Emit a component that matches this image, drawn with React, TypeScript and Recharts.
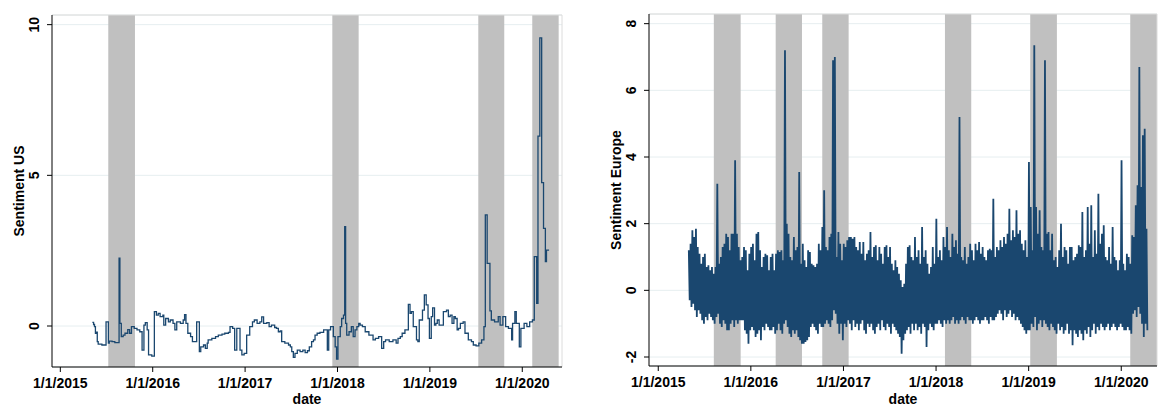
import React from "react";
import {
  LineChart,
  Line,
  XAxis,
  YAxis,
  CartesianGrid,
  ReferenceArea,
  ReferenceLine,
} from "recharts";

const NAVY = "#1a476f";
const BAND = "#c0c0c0";
const GRID = "#e6eef0";
const FONT = "'Liberation Sans', Arial, Helvetica, sans-serif";

const YEAR_TICKS = [2015, 2016, 2017, 2018, 2019, 2020];

// US sentiment: weekly step series (decimal year, value at change point)
const usDates = [
  2015.347, 2015.36, 2015.37, 2015.38, 2015.39, 2015.4, 2015.41, 2015.45, 2015.495, 2015.52,
  2015.53, 2015.56, 2015.59, 2015.636, 2015.645, 2015.66, 2015.68, 2015.7, 2015.73, 2015.75,
  2015.77, 2015.8, 2015.83, 2015.86, 2015.885, 2015.905, 2015.92, 2015.94, 2015.955, 2015.99,
  2016.018, 2016.04, 2016.06, 2016.08, 2016.11, 2016.12, 2016.14, 2016.17, 2016.19, 2016.22,
  2016.24, 2016.26, 2016.3, 2016.33, 2016.345, 2016.36, 2016.38, 2016.41, 2016.43, 2016.476,
  2016.505, 2016.52, 2016.55, 2016.57, 2016.59, 2016.6, 2016.64, 2016.68, 2016.71, 2016.75,
  2016.78, 2016.82, 2016.837, 2016.865, 2016.887, 2016.91, 2016.945, 2016.965, 2016.99, 2017.017,
  2017.05, 2017.08, 2017.1, 2017.13, 2017.16, 2017.18, 2017.2, 2017.235, 2017.26, 2017.285,
  2017.32, 2017.34, 2017.36, 2017.38, 2017.396, 2017.43, 2017.47, 2017.49, 2017.505, 2017.522,
  2017.54, 2017.565, 2017.595, 2017.625, 2017.65, 2017.675, 2017.695, 2017.72, 2017.74, 2017.757,
  2017.78, 2017.81, 2017.85, 2017.89, 2017.905, 2017.925, 2017.955, 2017.975, 2017.99, 2018.005,
  2018.03, 2018.045, 2018.065, 2018.078, 2018.088, 2018.1, 2018.125, 2018.15, 2018.17, 2018.19,
  2018.21, 2018.23, 2018.245, 2018.27, 2018.3, 2018.34, 2018.385, 2018.41, 2018.445, 2018.478,
  2018.5, 2018.52, 2018.56, 2018.6, 2018.635, 2018.655, 2018.68, 2018.7, 2018.73, 2018.767,
  2018.785, 2018.8, 2018.82, 2018.855, 2018.87, 2018.885, 2018.92, 2018.94, 2018.96, 2018.98,
  2018.995, 2019.015, 2019.03, 2019.05, 2019.065, 2019.08, 2019.1, 2019.146, 2019.18, 2019.2,
  2019.22, 2019.24, 2019.26, 2019.275, 2019.295, 2019.31, 2019.33, 2019.36, 2019.38, 2019.416,
  2019.45, 2019.47, 2019.5, 2019.53, 2019.56, 2019.585, 2019.6, 2019.62, 2019.65, 2019.665,
  2019.7, 2019.74, 2019.76, 2019.79, 2019.82, 2019.85, 2019.885, 2019.895, 2019.92, 2019.935,
  2019.968, 2019.985, 2020.02, 2020.05, 2020.08, 2020.11, 2020.13, 2020.156, 2020.17, 2020.19,
  2020.21, 2020.23, 2020.25, 2020.262, 2020.29,
];
const usValues = [
  0.12, 0.05, -0.02, -0.24, -0.2, -0.52, -0.6, -0.63, 0.14, -0.57,
  -0.5, -0.52, -0.55, 2.25, 0.09, -0.35, -0.3, -0.24, -0.12, -0.24,
  -0.02, -0.08, -0.13, -0.19, -0.8, 0.03, 0.11, -0.13, -0.96, -1.0,
  0.48, 0.36, 0.42, 0.31, 0.36, 0.03, 0.25, 0.14, 0.2, 0.09,
  -0.13, 0.14, 0.09, 0.2, 0.38, 0.09, -0.24, -0.35, -0.52, 0.14,
  -0.85, -0.69, -0.63, -0.74, -0.57, -0.46, -0.41, -0.35, -0.3, -0.27,
  -0.24, -0.21, -0.02, -0.08, -0.8, -0.08, -0.8, -0.96, -0.91, -0.3,
  -0.02, 0.14, 0.2, 0.09, 0.14, 0.3, 0.09, 0.11, -0.02, 0.03,
  -0.05, -0.08, -0.19, -0.16, -0.52, -0.57, -0.63, -0.69, -0.85, -1.04,
  -0.91, -0.8, -0.85, -0.8, -0.88, -0.82, -0.69, -0.52, -0.46, -0.3,
  -0.24, -0.21, -0.13, -0.8, -0.13, -0.02, -0.35, -0.69, -1.1, -0.35,
  -0.02, 0.25, 0.36, 3.3, 0.09, -0.3, -0.19, -0.02, -0.35, -0.13,
  -0.02, 0.09, 0.03, -0.02, -0.19, -0.3, -0.46, -0.41, -0.35, -0.74,
  -0.52, -0.46, -0.52, -0.46, -0.57, -0.41, -0.35, -0.24, -0.13, 0.72,
  0.42, 0.48, -0.02, -0.46, -0.52, 0.2, 0.53, 1.03, 0.7, 0.25,
  -0.41, 0.31, 0.6, 0.03, 0.09, 0.2, 0.03, 0.48, 0.53, 0.31,
  0.36, 0.09, 0.31, 0.25, -0.13, -0.08, 0.09, 0.14, -0.24, -0.46,
  -0.52, -0.63, -0.66, -0.57, -0.46, -0.02, 3.69, 2.08, 0.5, 0.2,
  0.14, 0.31, 0.03, 0.31, -0.02, -0.08, -0.46, 0.09, 0.48, 0.09,
  -0.69, -0.08, 0.09, -0.02, 0.14, 0.2, 2.3, 0.75, 6.3, 9.56,
  4.76, 3.24, 2.14, 2.52, 2.52,
];

// Europe sentiment: weekly high / low
const euStart = 2015.33;
const euHigh = [
  1.2, 1.4, 1.8, 1.6, 1.85, 1.3,
  1.1, 0.8, 1.0, 1.1, 0.7, 0.75, 0.6,
  0.7, 0.5, 0.7, 3.2, 0.8, 1.0, 1.3, 1.4, 1.7, 1.6, 1.2, 1.7, 1.7,
  3.9, 1.7, 1.3, 0.9, 1.0, 1.3, 1.2, 0.6, 1.1,
  1.3, 1.4, 0.9, 1.7, 1.75, 1.2, 0.7, 1.0, 1.1, 1.05, 0.6,
  1.0, 1.1, 0.6, 1.1, 1.2, 1.15, 1.2, 0.9,
  7.2, 2.0, 1.7, 1.0, 0.9, 1.6, 1.2, 1.3,
  3.55, 0.8, 1.4, 0.9, 0.7, 1.2, 1.15, 0.8, 0.75, 0.7, 0.8, 1.4, 1.2,
  1.9, 3.0, 1.3, 1.2, 1.6, 1.7, 6.9, 7.0, 1.0, 1.75, 1.4, 0.9,
  1.4, 1.3, 1.5, 1.6, 1.6, 1.55, 1.6, 1.3, 1.2, 1.45, 1.1, 1.45, 0.9, 1.1,
  1.2, 1.75, 1.0, 1.3, 1.35, 0.9, 1.3, 1.1, 0.8, 1.3, 1.35, 1.0, 1.3, 0.8, 0.6, 0.9, 0.7,
  0.5, 0.3, 0.1, 0.2, 0.8, 1.3, 1.35, 1.0, 0.9,
  1.6, 1.0, 1.2, 0.8, 1.9, 1.0, 1.2, 0.8, 0.5, 0.7, 1.3, 0.8,
  2.15, 1.0, 1.2, 0.9, 1.6, 1.3, 1.9, 1.2, 1.0, 1.7, 1.3, 1.5, 1.1,
  5.2, 1.0, 0.9, 1.3, 0.8, 1.0, 1.4, 1.2, 0.9, 1.4, 1.2, 1.45, 1.1, 1.3, 1.0, 0.9, 1.2, 1.25, 1.2,
  2.75, 1.0, 1.3, 1.2, 1.5, 1.3, 1.6, 1.4, 1.7, 2.45, 1.5, 1.8, 1.6, 2.4, 1.7, 1.8, 1.4, 1.2, 1.5, 1.0,
  3.85, 2.5, 1.2, 7.35, 2.5, 1.7, 2.4, 1.3, 1.2, 6.9,
  1.7, 1.75, 1.2, 1.7, 0.9, 1.0, 0.7, 1.2, 2.0, 1.0, 1.3, 1.2, 0.8, 1.3,
  1.3, 0.9, 1.0, 1.1, 1.35, 1.3, 2.35, 1.0, 1.2, 2.5, 1.4, 2.55, 1.0, 1.8, 1.1, 2.9, 1.4, 1.7,
  1.95, 1.0, 0.9, 1.3, 0.8, 1.9, 1.0, 0.9, 0.6, 0.9, 3.9, 0.8, 0.6, 1.1, 1.0, 0.8,
  1.65, 1.6, 2.55, 3.15, 6.7, 3.1, 4.65, 4.85, 1.85,
];
const euLow = [
  -0.3, -0.5, -0.4, -0.6, -0.8, -0.6,
  -0.7, -0.9, -1.0, -0.8, -0.9, -0.7, -0.8,
  -0.9, -1.0, -0.8, -0.7, -1.0, -1.1, -0.9, -1.0, -1.2, -1.2, -1.0, -0.9, -1.1,
  -0.9, -1.0, -0.9, -0.9, -0.9, -1.2, -1.3, -1.6, -1.2,
  -1.1, -1.2, -1.4, -1.3, -1.2, -1.5, -1.1, -1.2, -1.0, -1.1, -1.2,
  -1.2, -1.1, -1.3, -1.2, -1.0, -1.2, -1.3, -1.0,
  -0.9, -1.1, -1.3, -1.4, -1.2, -1.3, -1.2, -1.4,
  -1.5, -1.6, -1.6, -1.55, -1.5, -1.4, -1.1, -1.0, -1.1, -1.2, -1.3, -1.0, -1.1,
  -1.1, -1.0, -0.9, -1.0, -1.1, -0.9, -0.6, -0.7, -1.0, -1.3, -1.0, -1.5,
  -1.0, -1.1, -0.9, -1.0, -1.2, -0.9, -1.1, -1.0, -1.2, -1.0, -0.9, -1.2, -1.3, -1.0,
  -1.1, -1.0, -1.2, -1.3, -1.1, -1.0, -1.2, -0.9, -1.1, -1.2, -1.0, -1.1, -1.3, -1.0, -1.1, -1.2, -1.3,
  -1.4, -1.9, -1.5, -1.3, -1.2, -1.1, -1.3, -1.0, -1.2,
  -1.0, -1.2, -1.1, -1.3, -1.0, -1.1, -1.7, -1.2, -1.0, -1.1, -1.2, -1.0,
  -1.0, -0.9, -1.0, -1.1, -0.9, -1.0, -0.9, -1.0, -0.9, -0.8, -1.0, -0.9, -1.0,
  -0.9, -0.8, -0.9, -1.0, -0.8, -0.9, -0.9, -1.0, -0.9, -0.8, -0.9, -1.0, -0.9, -0.9, -0.8, -0.9, -1.0, -0.8, -0.9,
  -0.9, -0.8, -0.7, -0.6, -0.7, -0.9, -0.6, -0.8, -0.7, -0.6, -0.8, -0.7, -0.9, -0.8, -0.9, -1.0, -1.1, -1.2, -1.3, -1.2,
  -1.2, -1.0, -1.1, -0.8, -1.2, -1.0, -0.9, -1.1, -0.9, -1.0,
  -1.1, -1.2, -1.0, -1.1, -1.2, -1.3, -1.0, -1.2, -1.1, -1.3, -1.2, -1.0, -1.3, -1.2,
  -1.65, -1.2, -1.3, -1.4, -1.2, -1.3, -1.5, -1.2, -1.3, -1.1, -1.4, -1.2, -1.0, -1.3, -1.1, -1.2, -1.0, -1.1,
  -1.2, -1.1, -1.0, -1.2, -1.1, -1.0, -1.1, -1.2, -1.1, -1.0, -1.1, -1.2, -1.2, -1.1, -1.2, -1.3,
  -0.7, -0.6, -0.8, -0.5, -0.7, -1.0, -1.4, -1.0, -1.2,
];

// shaded periods (decimal years)
const usBands = [
  [2015.519, 2015.808],
  [2017.944, 2018.229],
  [2019.524, 2019.805],
  [2020.108, 2020.394],
];
const euBands = [
  [2015.6, 2015.89],
  [2016.268, 2016.552],
  [2016.771, 2017.056],
  [2018.096, 2018.38],
  [2019.017, 2019.305],
  [2020.097, 2020.386],
];

const usData = usDates.map((t, i) => ({ t, v: usValues[i] }));
const euData = euHigh.flatMap((h, i) => [
  { t: euStart + i / 52, v: h },
  { t: euStart + (i + 0.5) / 52, v: euLow[i] },
]);

function YTick(props: any) {
  const { x, y, payload } = props;
  return (
    <text
      x={x}
      y={y}
      transform={`rotate(-90 ${x} ${y})`}
      textAnchor="middle"
      fontSize={14}
      fontWeight="bold"
      fill="#000"
    >
      {payload.value}
    </text>
  );
}

function YTitle(props: any) {
  const { viewBox, text } = props;
  const x = viewBox.x + viewBox.width - 28;
  const y = viewBox.y + viewBox.height / 2;
  return (
    <text
      x={x}
      y={y}
      transform={`rotate(-90 ${x} ${y})`}
      textAnchor="middle"
      fontSize={14}
      fontWeight="bold"
      fill="#000"
    >
      {text}
    </text>
  );
}

function XTitle(props: any) {
  const { viewBox } = props;
  return (
    <text
      x={viewBox.x + viewBox.width / 2}
      y={viewBox.y + viewBox.height - 1.5}
      textAnchor="middle"
      fontSize={14}
      fontWeight="bold"
      fill="#000"
    >
      date
    </text>
  );
}

interface PanelProps {
  data: { t: number; v: number }[];
  bands: number[][];
  xDomain: [number, number];
  yDomain: [number, number];
  yTicks: number[];
  yTitle: string;
  width: number;
  top: number;
  right: number;
  yWidth: number;
  xHeight: number;
  step?: boolean;
  lineWidth: number;
}

function Panel(p: PanelProps) {
  return (
    <LineChart
      width={p.width}
      height={405}
      data={p.data}
      margin={{ top: p.top, right: p.right, left: 0, bottom: 0 }}
    >
      <CartesianGrid horizontal vertical={false} stroke={GRID} strokeWidth={1} />
      {p.bands.map(([a, b], i) => (
        <ReferenceArea
          key={i}
          x1={a}
          x2={Math.min(b, p.xDomain[1])}
          y1={p.yDomain[0]}
          y2={p.yDomain[1]}
          fill={BAND}
          fillOpacity={1}
          stroke="none"
          ifOverflow="hidden"
        />
      ))}
      <ReferenceLine y={p.yDomain[1]} stroke="#dcdcdc" strokeWidth={1} />
      <ReferenceLine x={p.xDomain[1]} stroke="#dcdcdc" strokeWidth={1} />
      <XAxis
        type="number"
        dataKey="t"
        domain={p.xDomain}
        allowDataOverflow
        ticks={YEAR_TICKS}
        tickFormatter={(v) => `1/1/${v}`}
        height={p.xHeight}
        tickSize={5}
        tickMargin={6}
        axisLine={{ stroke: "#000" }}
        tickLine={{ stroke: "#000" }}
        tick={{ fontSize: 14, fill: "#000", fontWeight: "bold" }}
        interval={0}
        label={<XTitle />}
      />
      <YAxis
        type="number"
        domain={p.yDomain}
        allowDataOverflow
        ticks={p.yTicks}
        width={p.yWidth}
        tickSize={5}
        tickMargin={8}
        axisLine={{ stroke: "#000" }}
        tickLine={{ stroke: "#000" }}
        tick={<YTick />}
        interval={0}
        label={<YTitle text={p.yTitle} />}
      />
      <Line
        type={p.step ? "stepAfter" : "linear"}
        dataKey="v"
        stroke={NAVY}
        strokeWidth={p.lineWidth}
        dot={false}
        activeDot={false}
        isAnimationActive={false}
      />
    </LineChart>
  );
}

export default function App() {
  return (
    <div
      style={{
        position: "absolute",
        left: 0,
        top: 0,
        width: 1158,
        height: 405,
        background: "#fff",
        fontFamily: FONT,
        overflow: "hidden",
      }}
    >
      <div style={{ position: "absolute", left: 0, top: 0 }}>
        <Panel
          data={usData}
          bands={usBands}
          xDomain={[2014.91, 2020.43]}
          yDomain={[-1.36, 10.32]}
          yTicks={[0, 5, 10]}
          yTitle="Sentiment US"
          width={575}
          top={15}
          right={13}
          yWidth={52}
          xHeight={38}
          step
          lineWidth={1.3}
        />
      </div>
      <div style={{ position: "absolute", left: 580, top: 0 }}>
        <Panel
          data={euData}
          bands={euBands}
          xDomain={[2014.9, 2020.386]}
          yDomain={[-2.27, 8.29]}
          yTicks={[-2, 0, 2, 4, 6, 8]}
          yTitle="Sentiment Europe"
          width={578}
          top={14}
          right={1}
          yWidth={69}
          xHeight={39}
          lineWidth={1.8}
        />
      </div>
    </div>
  );
}
